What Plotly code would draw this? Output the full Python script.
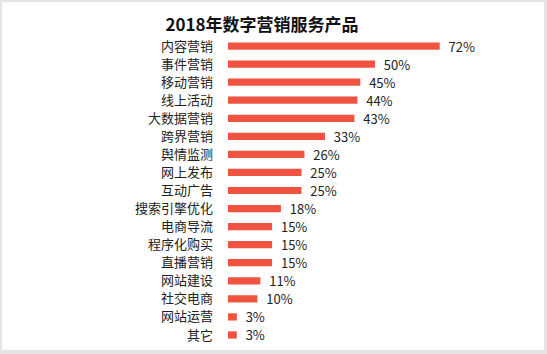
import plotly.graph_objects as go

categories = ["内容营销", "事件营销", "移动营销", "线上活动", "大数据营销", "跨界营销", "舆情监测",
              "网上发布", "互动广告", "搜索引擎优化", "电商导流", "程序化购买", "直播营销",
              "网站建设", "社交电商", "网站运营", "其它"]
values = [72, 50, 45, 44, 43, 33, 26, 25, 25, 18, 15, 15, 15, 11, 10, 3, 3]
title = "2018年数字营销服务产品"

W, H = 547, 354
L, R, T, B = 228, 25, 37, 10
pw, ph = W - L - R, H - T - B

def px(x):
    return (x - L) / pw

def py(y):
    return (H - B - y) / ph

font = "Noto Sans CJK SC, Microsoft YaHei, sans-serif"

fig = go.Figure(go.Bar(
    x=values, y=categories, orientation="h",
    marker=dict(color="#F0533F", line=dict(width=0)),
    width=0.4,
    text=[f"  {v}%" for v in values], textposition="outside",
    constraintext="none",
    textfont=dict(size=13, color="#222222", family=font),
    cliponaxis=False,
))

fig.update_layout(
    width=W, height=H,
    margin=dict(l=L, r=R, t=T, b=B),
    paper_bgcolor="#e4e4e4", plot_bgcolor="white",
    showlegend=False,
    title=dict(text="<b>" + title + "</b>", x=262 / W, xanchor="center",
               y=1 - 25 / H, yanchor="middle", yref="container", xref="container",
               font=dict(size=17, color="#111111", family=font)),
    xaxis=dict(range=[0, 100], visible=False, fixedrange=True),
    yaxis=dict(autorange="reversed", showgrid=False, showline=False, zeroline=False,
               ticks="", ticklabelstandoff=14,
               tickfont=dict(size=13, color="#222222", family=font)),
    shapes=[dict(type="rect", xref="paper", yref="paper", layer="below",
                 x0=px(2), x1=px(544), y0=py(2), y1=py(350),
                 fillcolor="white", line=dict(width=0))],
)

fig.write_html("out.html")
